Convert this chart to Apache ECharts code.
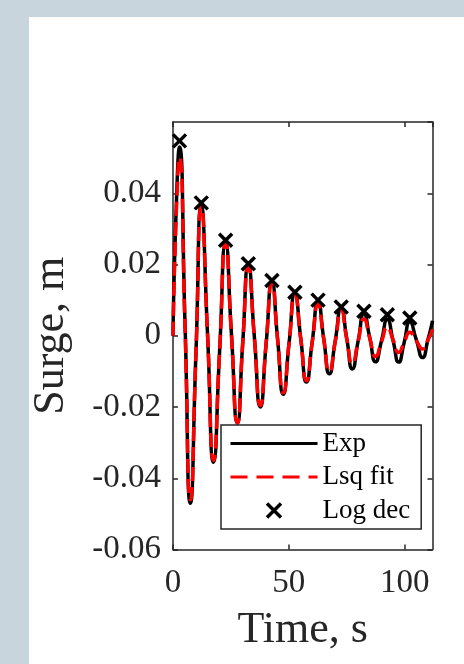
<!DOCTYPE html>
<html><head><meta charset="utf-8">
<script src="https://cdn.jsdelivr.net/npm/echarts@6/dist/echarts.min.js"></script>
<style>
html,body{margin:0;padding:0;background:#c9d5dc;width:464px;height:664px;overflow:hidden;}
#panel{position:absolute;left:29px;top:17px;width:435px;height:647px;background:#fff;}
#chart{position:absolute;left:0;top:0;width:464px;height:664px;}
</style></head><body>
<div id="panel"></div><div id="chart"></div>
<script>
// Time samples (s) read at peaks, troughs and mid-crossings
const timeS = [0, 1.4, 2.8, 5.2, 7.5, 9.9, 12.2, 14.9, 17.5, 20.1, 22.7, 25.2, 27.8, 30.1, 32.5, 35.1, 37.7, 40.2, 42.7, 45.1, 47.6, 50.1, 52.6, 55.1, 57.6, 60.1, 62.6, 65.0, 67.5, 70.0, 72.6, 75.0, 77.4, 79.9, 82.4, 84.9, 87.4, 90.0, 92.5, 95.0, 97.4, 99.8, 102.2, 105.0, 107.7, 110.0, 112];
// Experimental surge (m)
const expSurge = [0, 0.036, 0.053, 0.003, -0.047, -0.005, 0.0365, 0.0005, -0.0355, -0.0045, 0.026, 0.0008, -0.0245, -0.002, 0.0197, -0.0002, -0.0200, -0.0022, 0.0150, -0.0006, -0.0164, -0.002, 0.0118, -0.0005, -0.0130, -0.0016, 0.0096, -0.0005, -0.0107, -0.0015, 0.0077, -0.0008, -0.0093, -0.0015, 0.0062, -0.0005, -0.0073, -0.0014, 0.0046, -0.0014, -0.0074, -0.0018, 0.0039, -0.0011, -0.0061, -0.0012, 0.0042];
// Least-squares fit surge (m)
const fitSurge = [0, 0.034, 0.050, 0.002, -0.046, -0.005, 0.036, 0.0005, -0.035, -0.0045, 0.0262, 0.0005, -0.0245, -0.002, 0.0195, -0.0005, -0.0196, -0.002, 0.0148, -0.0008, -0.0160, -0.002, 0.0115, -0.0008, -0.0126, -0.0018, 0.0090, -0.0008, -0.0100, -0.0018, 0.0070, -0.001, -0.0078, -0.0016, 0.0047, -0.0006, -0.0058, -0.0017, 0.0024, -0.0012, -0.0047, -0.0018, 0.0010, -0.0014, -0.0037, -0.0013, 0.0018];
// Log decrement peak markers
const logDecTime = [2.8, 12.2, 22.7, 32.5, 42.7, 52.6, 62.6, 72.6, 82.4, 92.5, 102.2];
const logDecSurge = [0.0547, 0.0373, 0.0268, 0.0202, 0.0155, 0.0122, 0.0100, 0.0081, 0.0069, 0.0059, 0.0050];

const xTicks = [0, 50, 100];
const xTickLabels = ['0', '50', '100'];
const yTicks = [-0.06, -0.04, -0.02, 0, 0.02, 0.04];
const yTickLabels = ['-0.06', '-0.04', '-0.02', '0', '0.02', '0.04'];
const seriesNames = ['Exp', 'Lsq fit', 'Log dec'];
const xTitle = 'Time, s';
const yTitle = 'Surge, m';

const FONT = 'Liberation Serif';
const AX = '#262626';

function lab(ticks, labels) {
  return function (v) {
    const i = ticks.findIndex(t => Math.abs(t - v) < 1e-9);
    return i >= 0 ? labels[i] : '';
  };
}
const pairs = (xs, ys) => xs.map((x, i) => [x, ys[i]]);

const axisCommon = {
  type: 'value',
  axisLine: { show: true, onZero: false, lineStyle: { color: AX, width: 1.5 } },
  axisTick: { show: true, inside: true, length: 5, lineStyle: { color: AX, width: 1.5 } },
  splitLine: { show: false }
};
const hiddenSym = { color: 'rgba(0,0,0,0)', borderColor: 'rgba(0,0,0,0)', borderWidth: 0 };

const chart = echarts.init(document.getElementById('chart'), null, { renderer: 'canvas' });
chart.setOption({
  animation: false,
  backgroundColor: 'transparent',
  grid: { left: 173, right: 31.5, top: 122, bottom: 114.5, containLabel: false },
  xAxis: [
    Object.assign({}, axisCommon, {
      position: 'bottom', min: 0, max: 112, interval: 50,
      name: xTitle, nameLocation: 'middle', nameGap: 59,
      nameTextStyle: { fontFamily: FONT, fontSize: 44, color: AX },
      axisLabel: { show: true, margin: 17, fontFamily: FONT, fontSize: 33, color: AX,
        showMaxLabel: false, formatter: lab(xTicks, xTickLabels) }
    }),
    Object.assign({}, axisCommon, {
      position: 'top', min: 0, max: 112, interval: 50,
      axisLabel: { show: false }
    })
  ],
  yAxis: [
    Object.assign({}, axisCommon, {
      position: 'left', min: -0.06, max: 0.06, interval: 0.02,
      name: yTitle, nameLocation: 'middle', nameGap: 100,
      nameTextStyle: { fontFamily: FONT, fontSize: 44, color: AX },
      axisLabel: { show: true, margin: 12, fontFamily: FONT, fontSize: 33, color: AX,
        showMaxLabel: false, formatter: lab(yTicks, yTickLabels) }
    }),
    Object.assign({}, axisCommon, {
      position: 'right', min: -0.06, max: 0.06, interval: 0.02,
      axisLabel: { show: false }
    })
  ],
  legend: {
    orient: 'vertical', left: 221, top: 425,
    padding: [5, 11, 5, 8],
    itemWidth: 87, itemHeight: 14, itemGap: 6.5,
    backgroundColor: '#fff', borderColor: AX, borderWidth: 1.5, borderRadius: 0,
    textStyle: { fontFamily: FONT, fontSize: 27, lineHeight: 27, color: '#000' },
    data: [
      { name: seriesNames[0], lineStyle: { width: 3, color: '#000' }, itemStyle: hiddenSym },
      { name: seriesNames[1], lineStyle: { width: 3, color: '#ff0000', type: [17, 9] }, itemStyle: hiddenSym },
      { name: seriesNames[2], itemStyle: { color: 'rgba(0,0,0,0)', borderColor: '#000', borderWidth: 3.5, opacity: 1 } }
    ]
  },
  series: [
    {
      name: seriesNames[0], type: 'line', data: pairs(timeS, expSurge),
      xAxisIndex: 0, yAxisIndex: 0, smooth: 0.6, showSymbol: false, symbol: 'none',
      lineStyle: { color: '#000', width: 3.5 }, itemStyle: { color: '#000' }, z: 2
    },
    {
      name: seriesNames[1], type: 'line', data: pairs(timeS, fitSurge),
      xAxisIndex: 0, yAxisIndex: 0, smooth: 0.6, showSymbol: false, symbol: 'none',
      lineStyle: { color: '#ff0000', width: 3.5, type: [14, 6] }, itemStyle: { color: '#ff0000' }, z: 3
    },
    {
      name: seriesNames[2], type: 'scatter', data: pairs(logDecTime, logDecSurge),
      xAxisIndex: 0, yAxisIndex: 0,
      symbol: 'path://M0,0L10,10M10,0L0,10', symbolSize: 13,
      itemStyle: { color: 'rgba(0,0,0,0)', borderColor: '#000', borderWidth: 3.5, opacity: 1 }, z: 4
    }
  ]
});
</script>
</body></html>
